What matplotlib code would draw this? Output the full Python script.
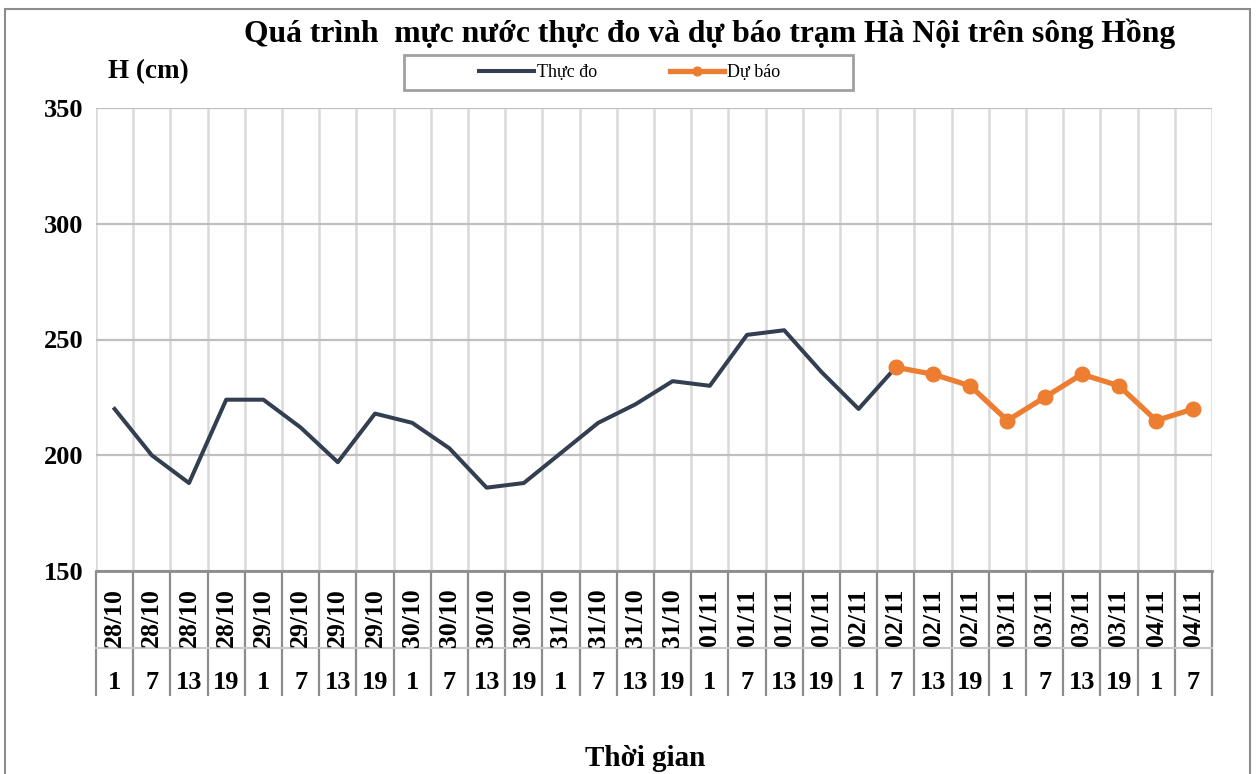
import numpy as np
import matplotlib
matplotlib.use('Agg')
import matplotlib.pyplot as plt
import matplotlib.transforms as mtransforms
from matplotlib.patches import Rectangle

dates = ['28/10', '28/10', '28/10', '28/10', '29/10', '29/10', '29/10', '29/10',
         '30/10', '30/10', '30/10', '30/10', '31/10', '31/10', '31/10', '31/10',
         '01/11', '01/11', '01/11', '01/11', '02/11', '02/11', '02/11', '02/11',
         '03/11', '03/11', '03/11', '03/11', '04/11', '04/11']
hours = ['1', '7', '13', '19'] * 7 + ['1', '7']
observed = [220, 200, 188, 224, 224, 212, 197, 218, 214, 203, 186, 188,
            201, 214, 222, 232, 230, 252, 254, 236, 220, 238]
forecast = [238, 235, 230, 215, 225, 235, 230, 215, 220]
yticks = [150, 200, 250, 300, 350]

title = 'Quá trình  mực nước thực đo và dự báo trạm Hà Nội trên sông Hồng'
ylab = 'H (cm)'
xlab = 'Thời gian'
obs_name = 'Thực đo'
fc_name = 'Dự báo'

plt.rcParams['font.family'] = ['Liberation Serif', 'DejaVu Serif']

W, H = 1259, 774
fig = plt.figure(figsize=(W / 100, H / 100), dpi=100)
ax = fig.add_axes([96 / W, 1 - 571 / H, (1212 - 96) / W, (571 - 108) / H])

n = len(dates)
x_obs = np.arange(len(observed))
x_fc = np.arange(len(observed) - 1, len(observed) - 1 + len(forecast))

ax.plot(x_obs, observed, color='#333f50', lw=2.9, label=obs_name, zorder=3)
ax.plot(x_fc, forecast, color='#ed7d31', lw=3.8, marker='o', ms=10.5,
        label=fc_name, zorder=4)

ax.set_xlim(-0.5, n - 0.5)
ax.set_ylim(yticks[0], yticks[-1])
ax.set_yticks(yticks)
ax.set_yticklabels([str(v) for v in yticks], fontsize=19, fontweight='bold')
ax.tick_params(axis='y', length=0, pad=9)

ax.set_xticks(np.arange(n))
ax.set_xticklabels([])
ax.tick_params(axis='x', which='major', length=0)
ax.set_xticks(np.arange(-0.5, n), minor=True)
ax.tick_params(axis='x', which='minor', length=90, width=1.6,
               color='#8c8c8c', direction='out')

ax.set_axisbelow(True)
ax.grid(which='major', axis='y', color='#bfbfbf', lw=1.6)
ax.grid(which='minor', axis='x', color='#d9d9d9', lw=1.8)
ax.grid(which='major', axis='x', visible=False)

for s in ['left', 'right', 'top']:
    ax.spines[s].set_visible(False)
ax.spines['bottom'].set_color('#8c8c8c')
ax.spines['bottom'].set_linewidth(2)

trans = mtransforms.blended_transform_factory(ax.transData, ax.transAxes)
for i, (d, h) in enumerate(zip(dates, hours)):
    ax.text(i, -0.1, d, transform=trans, rotation=90, ha='center', va='center',
            fontsize=18.5, fontweight='bold')
    ax.text(i, -0.24, h, transform=trans, ha='center', va='center',
            fontsize=19, fontweight='bold')
ax.plot([0, 1], [-0.166, -0.166], transform=ax.transAxes, clip_on=False,
        color='#c8c8c8', lw=1.5)

fig.text(710 / W, 1 - 34 / H, title, ha='center', va='center',
         fontsize=22.8, fontweight='bold')
fig.text(108 / W, 1 - 72 / H, ylab, ha='left', va='center',
         fontsize=19.5, fontweight='bold')
fig.text(645 / W, 1 - 759 / H, xlab, ha='center', va='center',
         fontsize=21, fontweight='bold')

fig.patches.append(Rectangle((404 / W, 1 - 90 / H), 449 / W, 35 / H,
                             transform=fig.transFigure, fill=False,
                             edgecolor='#a0a0a0', lw=2))
fig.legend(loc='center', bbox_to_anchor=(630 / W, 1 - 73 / H), frameon=False,
           ncol=2, handlelength=3, columnspacing=4, fontsize=13,
           handletextpad=0.2, markerscale=0.6)

fig.patches.append(Rectangle((5 / W, -0.05), 1245 / W, 1.05 - 9 / H,
                             transform=fig.transFigure, fill=False,
                             edgecolor='#8c8c8c', lw=1.5))

fig.savefig('out.png', dpi=100)
